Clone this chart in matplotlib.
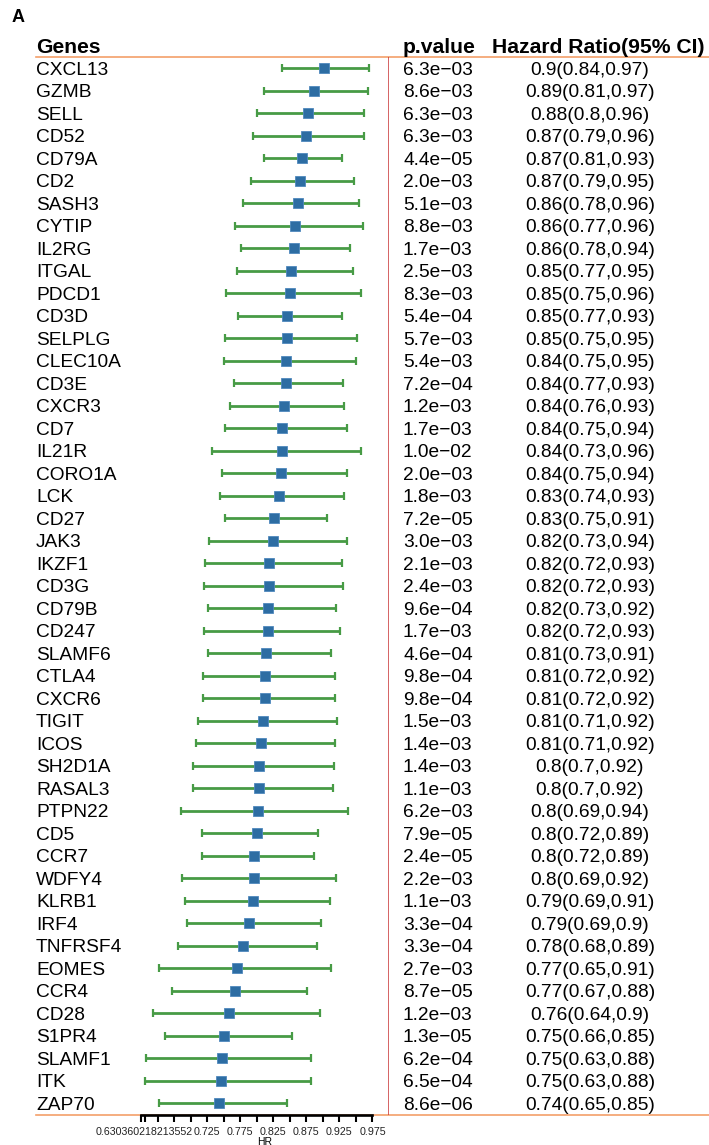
import matplotlib
matplotlib.use("Agg")
import matplotlib.pyplot as plt
import matplotlib.transforms as mtrans
from matplotlib.lines import Line2D

plt.rcParams['font.family'] = ['Liberation Sans', 'DejaVu Sans']

genes = ["CXCL13", "GZMB", "SELL", "CD52", "CD79A", "CD2", "SASH3", "CYTIP",
         "IL2RG", "ITGAL", "PDCD1", "CD3D", "SELPLG", "CLEC10A", "CD3E", "CXCR3",
         "CD7", "IL21R", "CORO1A", "LCK", "CD27", "JAK3", "IKZF1", "CD3G",
         "CD79B", "CD247", "SLAMF6", "CTLA4", "CXCR6", "TIGIT", "ICOS", "SH2D1A",
         "RASAL3", "PTPN22", "CD5", "CCR7", "WDFY4", "KLRB1", "IRF4", "TNFRSF4",
         "EOMES", "CCR4", "CD28", "S1PR4", "SLAMF1", "ITK", "ZAP70"]

hr = [0.901, 0.886, 0.8775, 0.874, 0.868, 0.866, 0.8625, 0.858, 0.856, 0.852,
      0.851, 0.8465, 0.846, 0.844, 0.8435, 0.841, 0.838, 0.8376, 0.836, 0.833,
      0.826, 0.824, 0.819, 0.818, 0.817, 0.8166, 0.814, 0.8125, 0.8125, 0.809,
      0.8066, 0.804, 0.803, 0.802, 0.800, 0.7965, 0.796, 0.794, 0.789, 0.7785,
      0.7706, 0.7665, 0.7586, 0.751, 0.747, 0.746, 0.7425]

lower = [0.838, 0.811, 0.800, 0.794, 0.811, 0.7915, 0.7785, 0.7665, 0.7755, 0.7695,
         0.753, 0.771, 0.752, 0.7505, 0.766, 0.759, 0.7515, 0.733, 0.747, 0.744,
         0.7525, 0.728, 0.722, 0.7196, 0.727, 0.721, 0.726, 0.719, 0.719, 0.711,
         0.708, 0.704, 0.703, 0.686, 0.7176, 0.7176, 0.6876, 0.6915, 0.694, 0.681,
         0.6516, 0.6716, 0.6426, 0.6615, 0.632, 0.6304, 0.6516]

upper = [0.970, 0.968, 0.9625, 0.9615, 0.9285, 0.9475, 0.955, 0.961, 0.9415, 0.946,
         0.9575, 0.929, 0.951, 0.950, 0.930, 0.9325, 0.936, 0.957, 0.937, 0.9325,
         0.907, 0.937, 0.929, 0.930, 0.920, 0.926, 0.912, 0.9186, 0.9186, 0.9216,
         0.919, 0.9175, 0.916, 0.938, 0.893, 0.886, 0.920, 0.9105, 0.897, 0.8916,
         0.912, 0.876, 0.896, 0.8535, 0.8816, 0.882, 0.846]

pvals = ["6.3e-03", "8.6e-03", "6.3e-03", "6.3e-03", "4.4e-05", "2.0e-03", "5.1e-03",
         "8.8e-03", "1.7e-03", "2.5e-03", "8.3e-03", "5.4e-04", "5.7e-03", "5.4e-03",
         "7.2e-04", "1.2e-03", "1.7e-03", "1.0e-02", "2.0e-03", "1.8e-03", "7.2e-05",
         "3.0e-03", "2.1e-03", "2.4e-03", "9.6e-04", "1.7e-03", "4.6e-04", "9.8e-04",
         "9.8e-04", "1.5e-03", "1.4e-03", "1.4e-03", "1.1e-03", "6.2e-03", "7.9e-05",
         "2.4e-05", "2.2e-03", "1.1e-03", "3.3e-04", "3.3e-04", "2.7e-03", "8.7e-05",
         "1.2e-03", "1.3e-05", "6.2e-04", "6.5e-04", "8.6e-06"]

hr_text = ["0.9(0.84,0.97)", "0.89(0.81,0.97)", "0.88(0.8,0.96)", "0.87(0.79,0.96)",
           "0.87(0.81,0.93)", "0.87(0.79,0.95)", "0.86(0.78,0.96)", "0.86(0.77,0.96)",
           "0.86(0.78,0.94)", "0.85(0.77,0.95)", "0.85(0.75,0.96)", "0.85(0.77,0.93)",
           "0.85(0.75,0.95)", "0.84(0.75,0.95)", "0.84(0.77,0.93)", "0.84(0.76,0.93)",
           "0.84(0.75,0.94)", "0.84(0.73,0.96)", "0.84(0.75,0.94)", "0.83(0.74,0.93)",
           "0.83(0.75,0.91)", "0.82(0.73,0.94)", "0.82(0.72,0.93)", "0.82(0.72,0.93)",
           "0.82(0.73,0.92)", "0.82(0.72,0.93)", "0.81(0.73,0.91)", "0.81(0.72,0.92)",
           "0.81(0.72,0.92)", "0.81(0.71,0.92)", "0.81(0.71,0.92)", "0.8(0.7,0.92)",
           "0.8(0.7,0.92)", "0.8(0.69,0.94)", "0.8(0.72,0.89)", "0.8(0.72,0.89)",
           "0.8(0.69,0.92)", "0.79(0.69,0.91)", "0.79(0.69,0.9)", "0.78(0.68,0.89)",
           "0.77(0.65,0.91)", "0.77(0.67,0.88)", "0.76(0.64,0.9)", "0.75(0.66,0.85)",
           "0.75(0.63,0.88)", "0.75(0.63,0.88)", "0.74(0.65,0.85)"]

tick_values = [0.625, 0.630360218213552, 0.65, 0.675, 0.7, 0.725, 0.75, 0.775, 0.8,
               0.825, 0.85, 0.875, 0.9, 0.925, 0.95, 0.975]
tick_labels = ["", "0.630360218213552", "", "", "", "0.725", "", "0.775", "",
               "0.825", "", "0.875", "", "0.925", "", "0.975"]

W, H = 709, 1145
fig = plt.figure(figsize=(W / 100, H / 100), dpi=100)

# forest panel in pixel box
x0, x1 = 141, 389
ytop, ybot = 57, 1115
ax = fig.add_axes([x0 / W, 1 - ybot / H, (x1 - x0) / W, (ybot - ytop) / H])
ax.patch.set_visible(False)
n = len(genes)
rows = list(range(n))
ax.set_xlim(0.625, 1.0)
ax.set_ylim(n - 0.47, -0.49)

xerr = [[h - l for h, l in zip(hr, lower)], [u - h for h, u in zip(hr, upper)]]
ax.errorbar(hr, rows, xerr=xerr, fmt='none', ecolor='#479B45', elinewidth=2.0,
            capsize=2.6, capthick=1.6, zorder=2)
ax.plot(hr, rows, 's', ms=7.3, color='#2D6DA3', mec='#4F88BD', mew=0.6, zorder=3)
ax.axvline(1.0, color='#C93435', lw=1.8, zorder=1)

for s in ['top', 'right', 'left']:
    ax.spines[s].set_visible(False)
ax.spines['bottom'].set_bounds(0.625, 0.975)
ax.spines['bottom'].set_linewidth(1.9)
ax.spines['bottom'].set_color('black')
ax.set_yticks([])
ax.set_xticks(tick_values, tick_labels)
ax.tick_params(axis='x', length=5, width=1.5, pad=3.5, labelsize=7.7,
               labelcolor='#222222', direction='out')
ax.set_xlabel('HR', fontsize=7.5, labelpad=0)

# horizontal separator lines
orange = '#F4A06A'
fig.add_artist(Line2D([36 / W, 1], [1 - ytop / H] * 2, transform=fig.transFigure,
                      color=orange, lw=1.2, zorder=-1))
fig.add_artist(Line2D([36 / W, 1], [1 - ybot / H] * 2, transform=fig.transFigure,
                      color=orange, lw=1.2, zorder=-1))

# table text
base = mtrans.blended_transform_factory(fig.transFigure, ax.transData)
body_tr = base + mtrans.ScaledTranslation(0, -4.9 / 72, fig.dpi_scale_trans)
head_tr = base + mtrans.ScaledTranslation(0, -5.4 / 72, fig.dpi_scale_trans)

col_gene = 36 / W
col_p = 403 / W
col_hr = 590 / W
body_fs = 13.8

ax.text(col_gene, -1, "Genes", transform=head_tr, fontsize=15.2, fontweight='bold',
        va='baseline', ha='left', clip_on=False)
ax.text(col_p, -1, "p.value", transform=head_tr, fontsize=15.2, fontweight='bold',
        va='baseline', ha='left', clip_on=False)
ax.text(598 / W, -1, "Hazard Ratio(95% CI)", transform=head_tr, fontsize=15.2,
        fontweight='bold', va='baseline', ha='center', clip_on=False)

for i in rows:
    ax.text(col_gene, i, genes[i], transform=body_tr, fontsize=body_fs,
            va='baseline', ha='left', clip_on=False)
    ax.text(col_p, i, pvals[i].replace('-', '\u2212'), transform=body_tr,
            fontsize=body_fs, va='baseline', ha='left', clip_on=False)
    ax.text(col_hr, i, hr_text[i], transform=body_tr, fontsize=body_fs,
            va='baseline', ha='center', clip_on=False)

fig.text(12 / W, 1 - 21.7 / H, "A", fontsize=13, fontweight='bold', va='baseline')

fig.savefig("out.png", dpi=100)
